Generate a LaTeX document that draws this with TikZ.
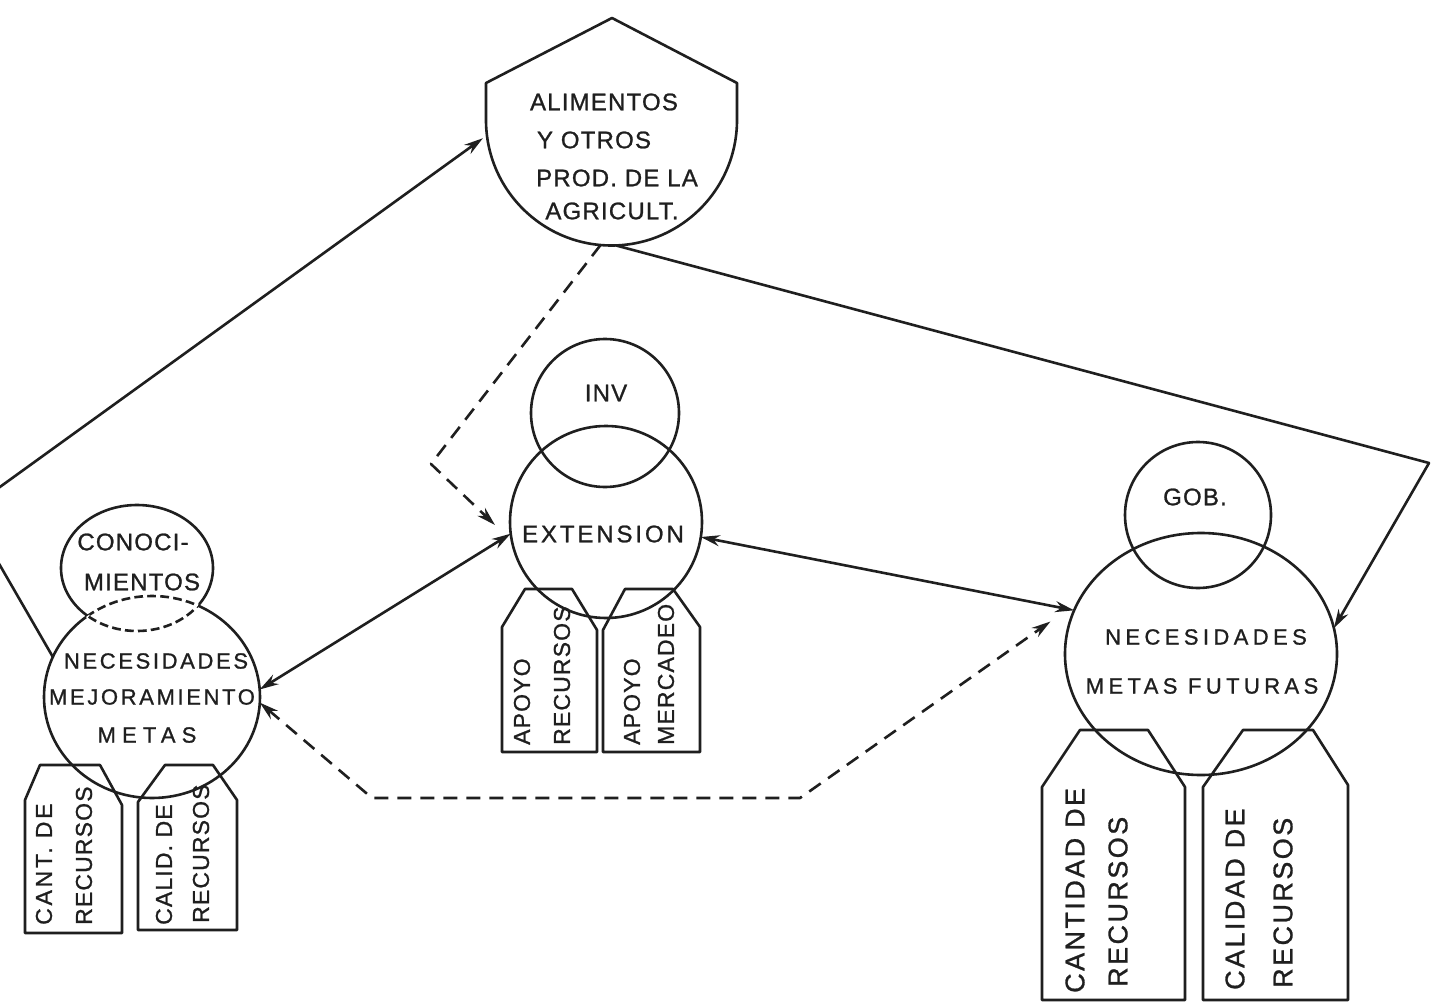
\documentclass[tikz,border=0pt]{standalone}
\usepackage{fontspec}
\setmainfont{Liberation Sans}
\newfontfamily\fA[LetterSpace=5,FakeBold=1]{Liberation Sans}
\newfontfamily\fE[LetterSpace=9,FakeBold=1]{Liberation Sans}
\newfontfamily\fB[LetterSpace=12,FakeBold=1]{Liberation Sans}
\newfontfamily\fC[LetterSpace=20,FakeBold=1]{Liberation Sans}
\newfontfamily\fD[LetterSpace=28,FakeBold=1]{Liberation Sans}
\usetikzlibrary{arrows.meta,shapes.geometric}
\begin{document}
\begin{tikzpicture}[x=1pt,y=-1pt,
  ink/.style={black!88},
  ln/.style={ink,line width=2.6pt,line join=round},
  shp/.style={ln,draw,inner sep=0pt,outer sep=0pt},
  arr/.style={ln,-{Stealth[length=19pt,width=11pt]}},
  darr/.style={ln,{Stealth[length=19pt,width=11pt]}-{Stealth[length=19pt,width=11pt]}},
  dsh/.style={dash pattern=on 14pt off 9pt},
  gap/.style={white,line width=4pt,dash pattern=on 4pt off 9pt},
  txt/.style={ink,inner sep=0pt,font=\fA\fontsize{24}{24}\selectfont},
  txtb/.style={ink,inner sep=0pt,font=\fB\fontsize{22}{22}\selectfont},
  txtc/.style={ink,inner sep=0pt,font=\fC\fontsize{22}{22}\selectfont},
  txtd/.style={ink,inner sep=0pt,font=\fD\fontsize{22}{22}\selectfont},
  vtxt/.style={ink,inner sep=0pt,rotate=90,anchor=west,font=\fA\fontsize{23}{23}\selectfont},
  vtxtb/.style={ink,inner sep=0pt,rotate=90,anchor=west,font=\fB\fontsize{23}{23}\selectfont},
  vtxtc/.style={ink,inner sep=0pt,rotate=90,anchor=west,font=\fE\fontsize{27}{27}\selectfont}]
\clip (0,0) rectangle (1432,1003);
\fill[white] (0,0) rectangle (1432,1003);

% ---------- ALIMENTOS shield ----------
\node[circle,minimum size=251pt,inner sep=0pt,outer sep=0pt] (alim) at (611.5,120) {};
\draw[ln] (486,120) -- (486,83) -- (612,18) -- (737,83) -- (737,120)
  arc[start angle=0,end angle=-180,radius=125.5pt] -- cycle;
\node[txt] (alimt1) at (604,102) {ALIMENTOS};
\node[txt] (alimt2) at (594,140) {Y OTROS};
\node[txt] (alimt3) at (617,178) {PROD. DE LA};
\node[txt] (alimt4) at (612,211) {AGRICULT.};

% ---------- centre group ----------
\node[shp,circle,minimum size=148pt] (inv) at (605,413) {};
\node[shp,circle,minimum size=192pt] (ext) at (606,522) {};
\node[txt] (invt) at (606,393) {INV};
\node[txt,font=\fB\fontsize{24}{24}\selectfont] (extt) at (603,534) {EXTENSION};
\draw[ln] (502,752) -- (502,627) -- (525,589) -- (572,589) -- (597,630) -- (597,752) -- cycle;
\draw[ln] (603,752) -- (603,630) -- (625,589) -- (673,589) -- (700,627) -- (700,752) -- cycle;
\node[vtxt] (ta1) at (522,745) {APOYO};
\node[vtxt] (ta2) at (562,745) {RECURSOS};
\node[vtxt] (ta3) at (632,745) {APOYO};
\node[vtxt] (ta4) at (666,745) {MERCADEO};

% ---------- left group ----------
\node[shp,ellipse,minimum width=152pt,minimum height=126pt] (conoc) at (137,568) {};
\node[shp,ellipse,minimum width=216pt,minimum height=202pt] (necL) at (152,697) {};
\begin{scope}
  \clip (137,568) ellipse[x radius=76pt,y radius=63pt];
  \draw[gap] (152,697) ellipse[x radius=108pt,y radius=101pt];
\end{scope}
\begin{scope}
  \clip (152,697) ellipse[x radius=108pt,y radius=101pt];
  \draw[gap] (137,568) ellipse[x radius=76pt,y radius=63pt];
\end{scope}
\node[txt] (cont1) at (133,542) {CONOCI-};
\node[txt] (cont2) at (142,582) {MIENTOS};
\node[txtb] (nlt1) at (156,661) {NECESIDADES};
\node[txtb] (nlt2) at (152,697) {MEJORAMIENTO};
\node[txtd] (nlt3) at (147,735) {METAS};
\draw[ln] (25,933) -- (25,800) -- (40,765) -- (100,765) -- (122,805) -- (122,933) -- cycle;
\draw[ln] (138,930) -- (138,802) -- (165,765) -- (213,765) -- (237,800) -- (237,930) -- cycle;
\node[vtxtb] (tl1) at (44,925) {CANT. DE};
\node[vtxt] (tl2) at (84,925) {RECURSOS};
\node[vtxt] (tl3) at (164,925) {CALID. DE};
\node[vtxt] (tl4) at (201,923) {RECURSOS};

% ---------- right group ----------
\node[shp,circle,minimum size=146pt] (gob) at (1198,515) {};
\node[shp,ellipse,minimum width=272pt,minimum height=242pt] (necR) at (1201,654) {};
\node[txt] (gobt) at (1195,497) {GOB.};
\node[txtc] (nrt1) at (1206,637) {NECESIDADES};
\node[txtc] (nrt2) at (1202,686) {METAS FUTURAS};
\draw[ln] (1042,1000) -- (1042,787) -- (1080,730) -- (1148,730) -- (1185,787) -- (1185,1000) -- cycle;
\draw[ln] (1203,1000) -- (1203,787) -- (1243,730) -- (1313,730) -- (1348,785) -- (1348,1000) -- cycle;
\node[vtxtc] (tr1) at (1075,993) {CANTIDAD DE};
\node[vtxtc] (tr2) at (1118,987) {RECURSOS};
\node[vtxtc] (tr3) at (1235,990) {CALIDAD DE};
\node[vtxtc] (tr4) at (1283,988) {RECURSOS};

% ---------- connectors ----------
\coordinate (c1) at (-32,510);
\coordinate (c2) at (1429,463);
\coordinate (d1) at (431,464);
\coordinate (d2) at (372,798);
\coordinate (d3) at (800,798);
\draw[arr,shorten >=5pt] (necL.158) -- (c1) -- (alim.187);
\draw[arr] (alim.-88) -- (c2) -- (necR.11);
\draw[arr,dsh] (alim.-95) -- (d1) -- ([shift={(-15,3)}]ext.west);
\draw[darr] (necL.4) -- (ext.187);
\draw[darr] (ext.-9) -- (necR.161);
\draw[darr,dsh,shorten >=34pt] (necL.-3) -- (d2) -- (d3) -- (necR.157);
\end{tikzpicture}
\end{document}
